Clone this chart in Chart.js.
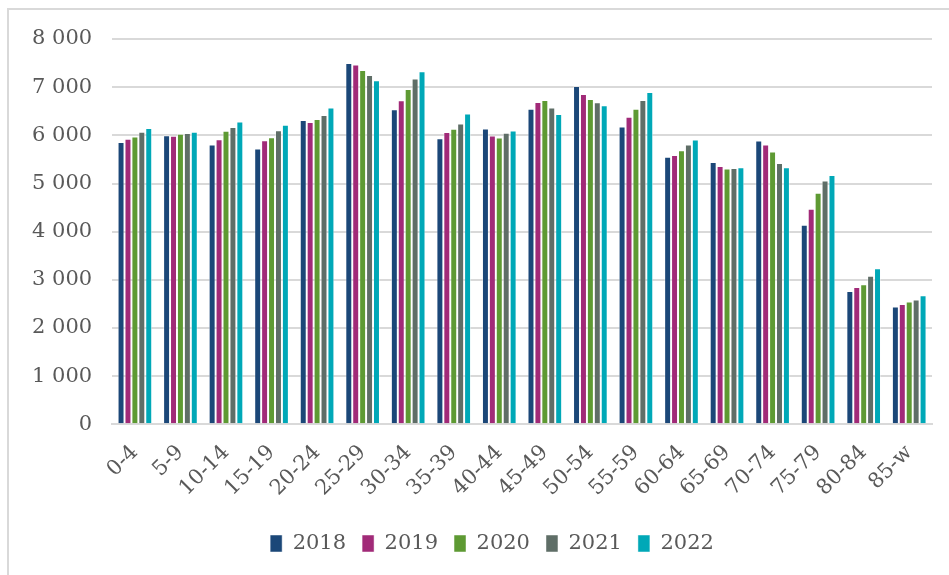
<!DOCTYPE html>
<html>
<head>
<meta charset="utf-8">
<script src="https://cdn.jsdelivr.net/npm/chart.js@4/dist/chart.umd.min.js"></script>
<style>
  html, body { margin: 0; padding: 0; background: #fff; }
  #frame { position: absolute; left: 7px; top: 8px; width: 960px; height: 600px;
           border-left: 2px solid #d9d9d9; border-top: 2px solid #d9d9d9; }
  #wrap { position: absolute; left: 0; top: 0; width: 949px; height: 575px; }
</style>
</head>
<body>
<div id="frame"></div>
<div id="wrap"><canvas id="c" width="949" height="575"></canvas></div>
<script>
const categories = ["0-4","5-9","10-14","15-19","20-24","25-29","30-34","35-39","40-44","45-49","50-54","55-59","60-64","65-69","70-74","75-79","80-84","85-w"];
const years = ["2018","2019","2020","2021","2022"];
const v2018 = [5860,6000,5806,5722,6312,7500,6535,5938,6139,6549,7021,6181,5549,5444,5889,4139,2764,2444];
const v2019 = [5923,5986,5917,5896,6271,7465,6722,6063,5993,6688,6854,6382,5590,5361,5806,4472,2847,2493];
const v2020 = [5972,6028,6090,5958,6333,7354,6958,6132,5951,6729,6750,6549,5688,5306,5660,4806,2903,2549];
const v2021 = [6069,6042,6167,6104,6417,7250,7174,6243,6049,6576,6681,6729,5806,5319,5424,5056,3083,2590];
const v2022 = [6146,6069,6285,6215,6576,7139,7326,6451,6097,6438,6618,6896,5910,5333,5333,5174,3236,2674];
const yTicks = [0,1000,2000,3000,4000,5000,6000,7000,8000];
const colors = ["#1b4778","#a12a78","#5e9a33","#5f6e67","#00a8b7"];
const series = [v2018, v2019, v2020, v2021, v2022];

const FONT = "'DejaVu Serif', 'Liberation Serif', serif";
const datasets = years.map((y, i) => ({
  label: y,
  data: series[i],
  backgroundColor: colors[i],
  borderColor: "rgba(255,255,255,0.6)",
  borderWidth: 0.8,
  categoryPercentage: 0.76,
  barPercentage: 0.95
}));

const legendShift = {
  id: "legendShift",
  afterLayout(chart) {
    if (chart.legend) { chart.legend.left += 20; chart.legend.right += 20; }
  }
};

new Chart(document.getElementById("c"), {
  type: "bar",
  data: { labels: categories, datasets },
  plugins: [legendShift],
  options: {
    responsive: false,
    animation: false,
    devicePixelRatio: 1,
    layout: { padding: { left: 12, right: 17, top: 39, bottom: 11 } },
    plugins: {
      legend: {
        position: "bottom",
        labels: {
          boxWidth: 12, boxHeight: 17,
          color: "#595959",
          font: { family: FONT, size: 21 },
          padding: 16
        }
      },
      tooltip: { enabled: false }
    },
    scales: {
      x: {
        grid: { display: false, drawTicks: false },
        border: { display: true, color: "#d9d9d9", width: 2 },
        ticks: {
          color: "#595959",
          font: { family: FONT, size: 21 },
          minRotation: 45, maxRotation: 45,
          padding: 16
        }
      },
      y: {
        min: 0, max: 8000,
        afterBuildTicks: (axis) => { axis.ticks = yTicks.map(v => ({ value: v })); },
        grid: { color: "#d9d9d9", lineWidth: 2, drawTicks: false },
        border: { display: false },
        ticks: {
          color: "#595959",
          font: { family: FONT, size: 21 },
          padding: 20,
          callback: (v) => String(v).replace(/\B(?=(\d{3})+(?!\d))/g, " ")
        }
      }
    }
  }
});
</script>
</body>
</html>
